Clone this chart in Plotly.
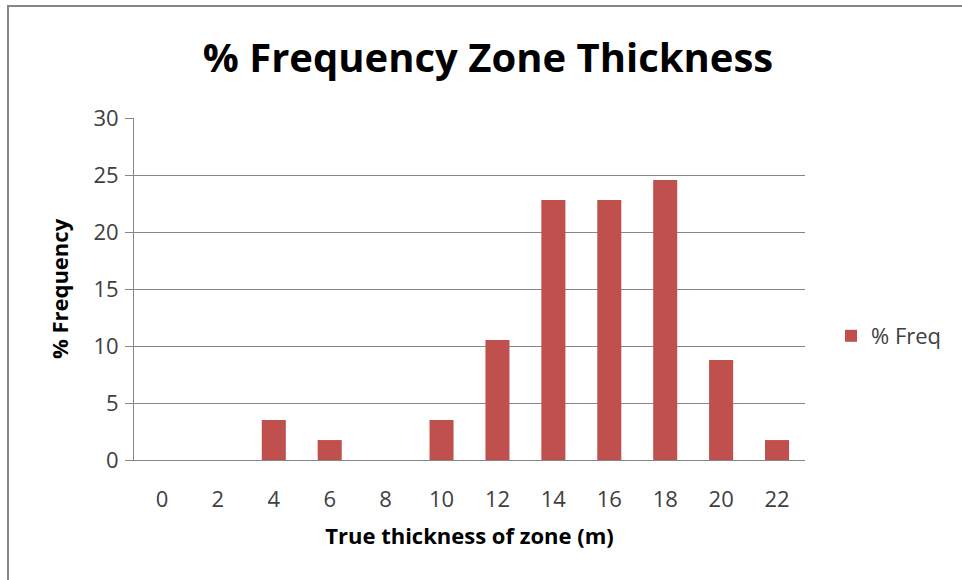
import plotly.graph_objects as go

categories = ["0", "2", "4", "6", "8", "10", "12", "14", "16", "18", "20", "22"]
freq_pct = [0, 0, 3.51, 1.75, 0, 3.51, 10.53, 22.81, 22.81, 24.56, 8.77, 1.75]
y_ticks = [0, 5, 10, 15, 20, 25, 30]

W, H = 962, 580
L, R, T, B = 134, 805, 118, 460
FONT = "Open Sans"
GRAY = "#868686"
TXT = "#404040"

fig = go.Figure()
fig.add_trace(go.Bar(x=categories, y=freq_pct, name="% Freq",
                     marker=dict(color="#C0504D", line=dict(width=0))))

def px_x(p):
    return (p - L) / (R - L)

def px_y(p):
    return (B - p) / (B - T)

fig.update_layout(
    width=W, height=H,
    margin=dict(l=L, r=W - R, t=T, b=H - B, pad=0),
    paper_bgcolor="white", plot_bgcolor="white",
    bargap=0.57,
    font=dict(family=FONT, color=TXT, size=22),
    title=dict(text="<b>% Frequency Zone Thickness</b>", x=488 / W, xanchor="center",
               y=1 - 58 / H, yanchor="middle",
               font=dict(family=FONT, size=40, color="black")),
    showlegend=True,
    legend=dict(x=px_x(831), y=px_y(336), xanchor="left", yanchor="middle",
                font=dict(family=FONT, size=22, color=TXT), bgcolor="rgba(0,0,0,0)"),
    xaxis=dict(type="category", showline=True, linecolor=GRAY, linewidth=1,
               ticks="", showgrid=False, ticklabelstandoff=20,
               tickfont=dict(family=FONT, size=22, color=TXT),
               title=dict(text="<b>True thickness of zone (m)</b>", standoff=16,
                          font=dict(family=FONT, size=22, color="black"))),
    yaxis=dict(range=[0, 30], tickvals=y_ticks, showline=True, linecolor=GRAY, linewidth=1,
               ticks="outside", ticklen=8, tickcolor=GRAY, showgrid=True, gridcolor=GRAY,
               gridwidth=1, zeroline=False, ticklabelstandoff=2,
               tickfont=dict(family=FONT, size=22, color=TXT),
               title=dict(text="<b>% Frequency</b>", standoff=18,
                          font=dict(family=FONT, size=22, color="black"))),
    shapes=[dict(type="rect", xref="paper", yref="paper",
                 x0=px_x(8), x1=px_x(W + 20), y0=px_y(H + 20), y1=px_y(6),
                 line=dict(color=GRAY, width=2), fillcolor="rgba(0,0,0,0)", layer="below")],
)

fig.write_html("out.html")
